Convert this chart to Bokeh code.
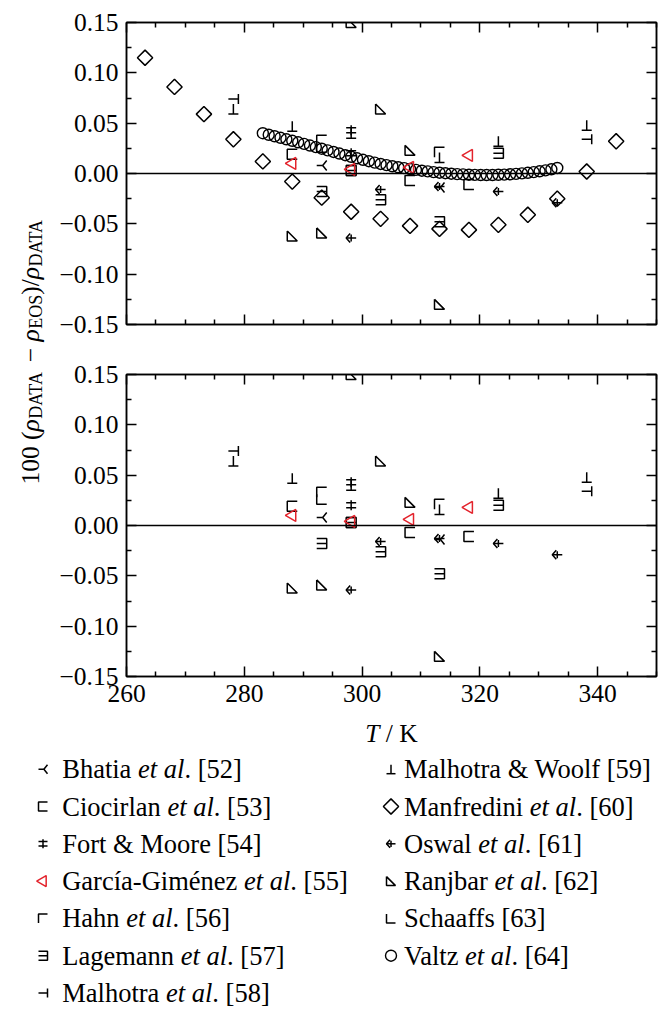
import numpy as np
from bokeh.plotting import figure
from bokeh.models import Range1d, LinearAxis, FixedTicker, CustomJSTickFormatter, Span
from bokeh.layouts import column, row
from bokeh.embed import file_html
from bokeh.resources import INLINE
from bokeh.core.properties import value

# ---------------- data ----------------
X_TICKS = [260, 280, 300, 320, 340]
X_MINOR = [265, 270, 275, 285, 290, 295, 305, 310, 315, 325, 330, 335, 345, 350]
Y_TICKS = [-0.15, -0.10, -0.05, 0.00, 0.05, 0.10, 0.15]
Y_MINOR = [-0.125, -0.075, -0.025, 0.025, 0.075, 0.125]

bhatia_T = [293.15, 313.15]
bhatia_dev = [0.008, -0.014]
ciocirlan_T = [288.15, 298.15, 308.15, 318.15]
ciocirlan_dev = [0.019, 0.003, -0.007, -0.011]
fort_T = [298.15, 298.15]
fort_dev = [0.043, 0.020]
garcia_T = [288.15, 298.15, 308.15, 318.15]
garcia_dev = [0.010, 0.004, 0.006, 0.018]
hahn_T = [293.15, 313.15]
hahn_dev = [0.033, 0.021]
lagemann_T = [293.15, 298.15, 303.15, 313.15, 323.15]
lagemann_dev = [-0.018, 0.003, -0.026, -0.048, 0.020]
malhotra_T = [278.15, 338.15]
malhotra_dev = [0.074, 0.034]
mw_T = [278.15, 288.15, 298.15, 313.15, 323.15, 338.15]
mw_dev = [0.064, 0.047, 0.040, 0.016, 0.032, 0.048]
manfredini_T = [263.15, 268.15, 273.15, 278.15, 283.15, 288.15, 293.15, 298.15, 303.15,
                308.15, 313.15, 318.15, 323.15, 328.15, 333.15, 338.15, 343.15]
manfredini_dev = [0.115, 0.086, 0.059, 0.034, 0.012, -0.008, -0.024, -0.038, -0.045,
                  -0.052, -0.055, -0.056, -0.051, -0.041, -0.025, 0.002, 0.032]
oswal_T = [298.15, 303.15, 313.15, 323.15, 333.15]
oswal_dev = [-0.064, -0.016, -0.013, -0.018, -0.029]
ranjbar_T = [288.15, 293.15, 298.15, 303.15, 308.15, 313.15]
ranjbar_dev = [-0.062, -0.059, 0.150, 0.064, 0.023, -0.130]
schaaffs_T = [293.15]
schaaffs_dev = [0.026]
valtz_T = [283.15, 284.15, 285.15, 286.15, 287.15, 288.15, 289.15, 290.15, 291.15, 292.15,
           293.15, 294.15, 295.15, 296.15, 297.15, 298.15, 299.15, 300.15, 301.15, 302.15,
           303.15, 304.15, 305.15, 306.15, 307.15, 308.15, 309.15, 310.15, 311.15, 312.15,
           313.15, 314.15, 315.15, 316.15, 317.15, 318.15, 319.15, 320.15, 321.15, 322.15,
           323.15, 324.15, 325.15, 326.15, 327.15, 328.15, 329.15, 330.15, 331.15, 332.15,
           333.15]
valtz_dev = [0.0400, 0.0385, 0.0370, 0.0355, 0.0340, 0.0325, 0.0310, 0.0294, 0.0278, 0.0262,
             0.0246, 0.0230, 0.0214, 0.0198, 0.0182, 0.0166, 0.0151, 0.0136, 0.0122, 0.0108,
             0.0095, 0.0083, 0.0072, 0.0062, 0.0053, 0.0044, 0.0036, 0.0028, 0.0021, 0.0014,
             0.0008, 0.0003, -0.0002, -0.0006, -0.0009, -0.0012, -0.0014, -0.0015, -0.0015, -0.0015,
             -0.0013, -0.0011, -0.0008, -0.0004, 0.0001, 0.0007, 0.0014, 0.0022, 0.0031, 0.0042,
             0.0055]

NB = "\u00a0"
LEGEND_LEFT = [
    ("bhatia", [("Bhatia" + NB, "normal"), ("et al", "italic"), (". [52]", "normal")]),
    ("ciocirlan", [("Ciocirlan" + NB, "normal"), ("et al", "italic"), (". [53]", "normal")]),
    ("fort", [("Fort & Moore [54]", "normal")]),
    ("garcia", [("García-Giménez" + NB, "normal"), ("et al", "italic"), (". [55]", "normal")]),
    ("hahn", [("Hahn" + NB, "normal"), ("et al", "italic"), (". [56]", "normal")]),
    ("lagemann", [("Lagemann" + NB, "normal"), ("et al", "italic"), (". [57]", "normal")]),
    ("malhotra", [("Malhotra" + NB, "normal"), ("et al", "italic"), (". [58]", "normal")]),
]
LEGEND_RIGHT = [
    ("mw", [("Malhotra & Woolf [59]", "normal")]),
    ("manfredini", [("Manfredini" + NB, "normal"), ("et al", "italic"), (". [60]", "normal")]),
    ("oswal", [("Oswal" + NB, "normal"), ("et al", "italic"), (". [61]", "normal")]),
    ("ranjbar", [("Ranjbar" + NB, "normal"), ("et al", "italic"), (". [62]", "normal")]),
    ("schaaffs", [("Schaaffs [63]", "normal")]),
    ("valtz", [("Valtz" + NB, "normal"), ("et al", "italic"), (". [64]", "normal")]),
]

# ---------------- style ----------------
FONT = "Liberation Serif"
RED = "#e3232c"
FW, FH = 530, 302
LABW = 48
LEFT = 78
KX = 90.0 / FW
KY = 0.30 / FH
TXT_SHIFT = 8.0   # rendered text sits this much below its anchor

SHAPES = {
    "bhatia": [[(-5, 0), (1, 0)], [(5, 5), (1, 0), (5, -5)]],
    "ciocirlan": [[(5, 5), (-5, 5), (-5, -5), (5, -5)]],
    "fort": [[(0, 5), (0, -5)], [(-5, 2.5), (5, 2.5)], [(-5, -2.5), (5, -2.5)]],
    "hahn": [[(-5, -5), (-5, 5), (5, 5)]],
    "lagemann": [[(-5, 5), (5, 5), (5, -5), (-5, -5)], [(-5, 0), (5, 0)]],
    "malhotra": [[(5, 5), (5, -5)], [(-5, 0), (5, 0)]],
    "mw": [[(0, 5), (0, -5)], [(-5, -5), (5, -5)]],
    "oswal": [[(-5, 0), (5, 0)], [(-1, 4.5), (-5, 0), (-1, -4.5)], [(0, 3.5), (0, -3.5)]],
    "ranjbar": [[(-5, 5), (-5, -5), (5, -5), (-5, 5)]],
    "schaaffs": [[(-5, 5), (-5, -5), (5, -5)]],
}

REG = {' ': 250, NB: 250, '(': 333, ')': 333, '/': 278, '.': 250, '[': 333, ']': 333, '&': 778,
       '-': 333, '\u2212': 564, 'A': 722, 'B': 667, 'C': 667, 'D': 722, 'E': 611, 'F': 556,
       'G': 722, 'H': 722, 'K': 722, 'L': 611, 'M': 889, 'O': 722, 'R': 667, 'S': 556,
       'T': 611, 'V': 722, 'W': 944, 'a': 444, 'b': 500, 'c': 444, 'd': 500, 'e': 444,
       'f': 333, 'g': 500, 'h': 500, 'i': 278, 'j': 278, 'l': 278, 'm': 778, 'n': 500,
       'o': 500, 'r': 333, 's': 389, 't': 278, 'w': 722, 'z': 444, '\u00ed': 278, '\u00e9': 444}
ITA = {'a': 500, 'e': 444, 'l': 278, 't': 278, 'T': 556, '\u03c1': 500, ' ': 250, NB: 250, '.': 250}
KERN = {"Va": -111, "Wo": -80}


def tw(s, style, size):
    tab = ITA if style == "italic" else REG
    w = sum(tab.get(c, 500) for c in s)
    if style != "italic":
        w += sum(KERN.get(s[i:i + 2], 0) for i in range(len(s) - 1))
    return w / 1000.0 * size


def shape_lines(xs, ys, shape, kx, ky, scale=1.0):
    XS, YS = [], []
    for x, y in zip(xs, ys):
        for poly in SHAPES[shape]:
            XS.append([x + dx * scale * kx for dx, dy in poly])
            YS.append([y + dy * scale * ky for dx, dy in poly])
    return XS, YS


def draw_series(p, key, xs, ys, kx, ky, scale=1.0, leg=False):
    if key == "valtz":
        p.scatter(xs, ys, marker="circle", size=11, fill_color=None, line_color="black", line_width=1.4)
    elif key == "manfredini":
        p.scatter(xs, ys, marker="square", angle=np.pi / 4, size=10.8, fill_color=None,
                  line_color="black", line_width=1.5)
    elif key == "garcia":
        p.scatter(xs, ys, marker="triangle", angle=np.pi / 2, size=12 if not leg else 11,
                  fill_color=None, line_color=RED, line_width=1.5)
    else:
        XS, YS = shape_lines(xs, ys, key, kx, ky, scale)
        p.multi_line(XS, YS, line_color="black", line_width=1.5)


EMPTY = CustomJSTickFormatter(code="return '';")
YFMT = CustomJSTickFormatter(code="return (tick < -1e-9 ? '\u2212' : '') + Math.abs(tick).toFixed(2);")


def style_axis(ax, ticks, minor, show, fmt=None, standoff=6):
    ax.ticker = FixedTicker(ticks=ticks, minor_ticks=minor)
    ax.axis_line_color = "black"
    ax.axis_line_width = 1.5
    ax.major_tick_in = 10
    ax.major_tick_out = 0
    ax.minor_tick_in = 5
    ax.minor_tick_out = 0
    ax.major_tick_line_color = "black"
    ax.minor_tick_line_color = "black"
    ax.major_tick_line_width = 1.5
    ax.minor_tick_line_width = 1.5
    if show:
        if fmt is not None:
            ax.formatter = fmt
        ax.major_label_text_font = FONT
        ax.major_label_text_font_size = "25.5px"
        ax.major_label_text_color = "black"
        ax.major_label_standoff = standoff
    else:
        ax.formatter = EMPTY
        ax.major_label_text_font_size = "1px"
        ax.major_label_standoff = 0


def panel(series, show_x, top_b, bot_b):
    p = figure(frame_width=FW, frame_height=FH, x_range=Range1d(260, 350),
               y_range=Range1d(-0.15, 0.15), output_backend="svg", toolbar_location=None,
               x_axis_type=None, y_axis_type=None, min_border_left=LEFT, min_border_right=2,
               min_border_top=top_b, min_border_bottom=bot_b)
    p.outline_line_color = "black"
    p.outline_line_width = 1.5
    p.background_fill_color = "white"
    p.border_fill_color = "white"
    for loc in ("below", "above"):
        ax = LinearAxis()
        style_axis(ax, X_TICKS, X_MINOR, show_x and loc == "below", standoff=8)
        p.add_layout(ax, loc)
    for loc in ("left", "right"):
        ax = LinearAxis()
        style_axis(ax, Y_TICKS, Y_MINOR, loc == "left", fmt=YFMT, standoff=8)
        p.add_layout(ax, loc)
    p.add_layout(Span(location=0, dimension="width", line_color="black", line_width=1.5))
    for key, xs, ys in series:
        draw_series(p, key, xs, ys, KX, KY)
    return p


common = [
    ("bhatia", bhatia_T, bhatia_dev),
    ("ciocirlan", ciocirlan_T, ciocirlan_dev),
    ("fort", fort_T, fort_dev),
    ("hahn", hahn_T, hahn_dev),
    ("lagemann", lagemann_T, lagemann_dev),
    ("malhotra", malhotra_T, malhotra_dev),
    ("mw", mw_T, mw_dev),
    ("oswal", oswal_T, oswal_dev),
    ("ranjbar", ranjbar_T, ranjbar_dev),
    ("schaaffs", schaaffs_T, schaaffs_dev),
    ("garcia", garcia_T, garcia_dev),
]
top_series = [("valtz", valtz_T, valtz_dev), ("manfredini", manfredini_T, manfredini_dev)] + common

TOP_H = 22 + FH + 25
BOT_H = 25 + FH + 42
p_top = panel(top_series, False, 22, 25)
p_bot = panel(common, True, 25, 42)

# ---------- y-axis label (rotated rich text) ----------
PANELS_H = TOP_H + BOT_H
ylab = figure(width=LABW, height=PANELS_H, x_range=Range1d(0, LABW), y_range=Range1d(0, PANELS_H),
              output_backend="svg", toolbar_location=None, x_axis_type=None, y_axis_type=None,
              min_border=0, outline_line_color=None)
ylab.grid.visible = False
YL_SIZE = 25.5
YL_SUB = 18.0
ypieces = [("100" + NB + "(", "normal", False), ("\u03c1", "italic", False), ("DATA", "normal", True),
           (NB + "\u2212" + NB, "normal", False), ("\u03c1", "italic", False), ("EOS", "normal", True),
           (")/", "normal", False), ("\u03c1", "italic", False), ("DATA", "normal", True)]
total = sum(tw(t, s, YL_SUB if sub else YL_SIZE) for t, s, sub in ypieces)
cy = (PANELS_H - 350) - total / 2.0
YL_BASE = 38 - TXT_SHIFT
for t, s, sub in ypieces:
    fs = YL_SUB if sub else YL_SIZE
    ylab.text(x=[YL_BASE + (5 if sub else 0)], y=[cy], text=[t], angle=np.pi / 2,
              text_font=value(FONT), text_font_size=value(f"{fs}px"), text_font_style=value(s),
              text_align=value("left"), text_baseline=value("alphabetic"), text_color="black")
    cy += tw(t, s, fs)

# ---------- legend + x label ----------
LEG_TOP = PANELS_H
LEG_H = 1011 - LEG_TOP
leg = figure(width=659, height=LEG_H, x_range=Range1d(0, 659), y_range=Range1d(0, LEG_H),
             output_backend="svg", toolbar_location=None, x_axis_type=None, y_axis_type=None,
             min_border=0, outline_line_color=None)
leg.grid.visible = False


def Y(abs_y):
    return LEG_H - (abs_y - LEG_TOP)


def hrich(p, x, y, pieces, size):
    cx = x
    for t, s in pieces:
        p.text(x=[cx], y=[y], text=[t], text_font=value(FONT), text_font_size=value(f"{size}px"),
               text_font_style=value(s), text_align=value("left"),
               text_baseline=value("alphabetic"), text_color="black")
        cx += tw(t, s, size)


XL_SIZE = 25.5
xl = [("T", "italic"), (NB + "/" + NB + "K", "normal")]
xw = sum(tw(t, s, XL_SIZE) for t, s in xl)
hrich(leg, 391 - xw / 2, Y(741 - TXT_SHIFT), xl, XL_SIZE)

LEG_SIZE = 26.5
for col_entries, sym_x, txt_x in ((LEGEND_LEFT, 42.5, 61.7), (LEGEND_RIGHT, 390.5, 403.5)):
    for i, (key, pieces) in enumerate(col_entries):
        base = 776.7 + 37.3 * i
        draw_series(leg, key, [sym_x], [Y(base - 8)], 1.0, 1.0, scale=0.9, leg=True)
        hrich(leg, txt_x, Y(base - TXT_SHIFT), pieces, LEG_SIZE)

layout = column(row(ylab, column(p_top, p_bot, spacing=0), spacing=0), leg, spacing=0)
open("out.html", "w").write(file_html(layout, INLINE))
